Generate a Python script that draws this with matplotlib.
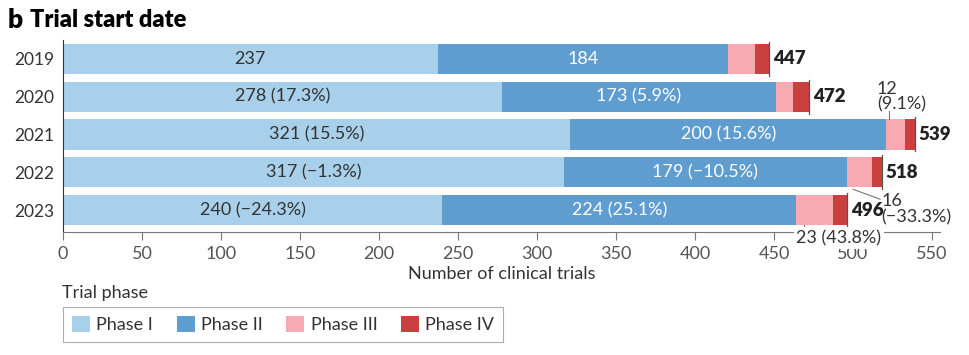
import matplotlib.pyplot as plt

plt.rcParams["font.family"] = ["Lato", "DejaVu Sans"]

years = ["2019", "2020", "2021", "2022", "2023"]
phase1 = [237, 278, 321, 317, 240]
phase2 = [184, 173, 200, 179, 224]
phase3 = [17, 11, 12, 16, 23]
phase4 = [9, 10, 6, 6, 9]
totals = [447, 472, 539, 518, 496]
phase1_labels = ["237", "278 (17.3%)", "321 (15.5%)", "317 (\u22121.3%)", "240 (\u221224.3%)"]
phase2_labels = ["184", "173 (5.9%)", "200 (15.6%)", "179 (\u221210.5%)", "224 (25.1%)"]
phase_names = ["Phase I", "Phase II", "Phase III", "Phase IV"]
colors = ["#a9d0ea", "#5f9dd0", "#f7aab1", "#c9403e"]
xticks = list(range(0, 551, 50))

text_col = "#333333"
fs = 13
fig = plt.figure(figsize=(9.7, 3.55), dpi=100)
ax = fig.add_axes([63 / 970, 1 - 232 / 355, 877 / 970, 192 / 355])

y = list(range(len(years)))
left = [0] * len(years)
bars = []
for vals, col, name in zip([phase1, phase2, phase3, phase4], colors, phase_names):
    b = ax.barh(y, vals, left=left, height=0.8, color=col, label=name)
    bars.append(b)
    left = [l + v for l, v in zip(left, vals)]

ax.bar_label(bars[0], labels=phase1_labels, label_type="center", fontsize=fs, color=text_col)
ax.bar_label(bars[1], labels=phase2_labels, label_type="center", fontsize=fs,
             color="white")

for i, t in enumerate(totals):
    ax.plot([t, t], [i - 0.45, i + 0.45], color="#555555", lw=0.9)
    ax.text(t + 2.5, i, str(t), va="center", ha="left", fontsize=13.5,
            fontweight="heavy", color="#222222")

# callouts for small Phase III segments
ax.plot([523, 523], [1.37, 1.58], color="#777777", lw=0.8)
ax.text(515, 1.0, "12\n(9.1%)", ha="left", va="center", fontsize=fs,
        color=text_col, linespacing=1.0)
ax.plot([500, 517], [3.45, 3.71], color="#777777", lw=0.8)
ax.text(518, 3.97, "16\n(\u221233.3%)", ha="left", va="center", fontsize=fs,
        color=text_col, linespacing=1.0, clip_on=False)
ax.plot([469, 469], [4.39, 4.66], color="#777777", lw=0.8, clip_on=False)
ax.text(491, 4.74, "23 (43.8%)", ha="center", va="center", fontsize=fs,
        color=text_col, clip_on=False, zorder=5,
        bbox=dict(facecolor="white", edgecolor="none", pad=2))

ax.set_xlim(0, 555)
ax.set_ylim(4.58, -0.5)
ax.set_yticks(y)
ax.set_yticklabels(years)
ax.set_xticks(xticks)
ax.tick_params(axis="y", length=0, labelsize=12.5, labelcolor=text_col, pad=6)
ax.tick_params(axis="x", direction="out", length=6, color="#777777",
               labelsize=fs, labelcolor="#555555", pad=4)
for s in ["top", "right"]:
    ax.spines[s].set_visible(False)
ax.spines["left"].set_color("#333333")
ax.spines["bottom"].set_color("#777777")
ax.set_xlabel("Number of clinical trials", fontsize=fs, color=text_col, labelpad=3)

fig.text(8 / 970, 1 - 20 / 355, "b", fontsize=19, fontweight="heavy", va="center")
fig.text(30 / 970, 1 - 20 / 355, "Trial start date", fontsize=17, fontweight="heavy",
         va="center")

fig.text(62 / 970, 1 - 293 / 355, "Trial phase", fontsize=fs, color=text_col, va="center")
leg = fig.legend(loc="upper left", bbox_to_anchor=(63 / 970, 1 - 307 / 355), ncol=4,
                 fontsize=fs, frameon=True, fancybox=False, edgecolor="#999999",
                 handlelength=1.0, handleheight=1.0, columnspacing=1.3,
                 handletextpad=0.35, borderpad=0.5, borderaxespad=0,
                 labelcolor=text_col)
leg.get_frame().set_linewidth(0.8)

fig.savefig("out.png", dpi=100)
